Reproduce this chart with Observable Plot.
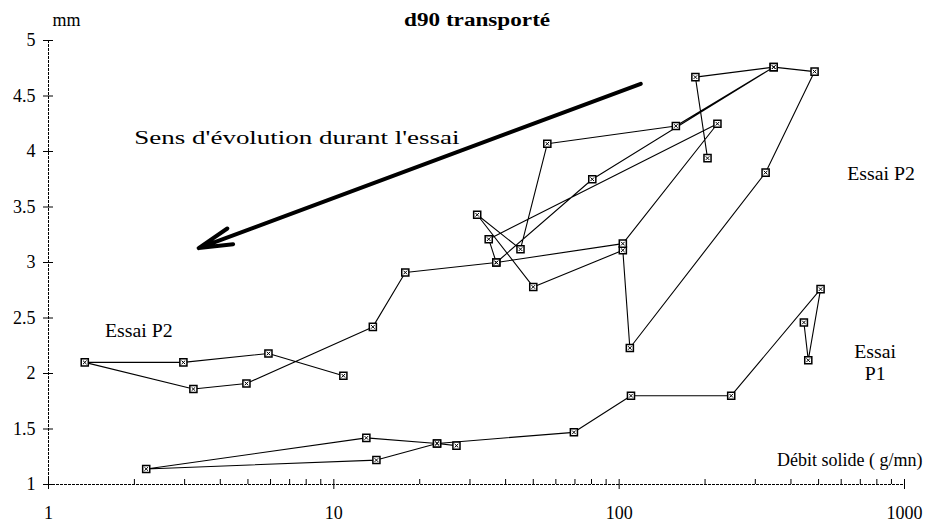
<!DOCTYPE html>
<html>
<head>
<meta charset="utf-8">
<script src="https://cdn.jsdelivr.net/npm/d3@7"></script>
<script src="https://cdn.jsdelivr.net/npm/@observablehq/plot@0.6"></script>
<style>
  body { margin: 0; background: #fff; }
  g[aria-description="wide"] { transform-box: fill-box; transform-origin: center; transform: scaleX(1.42); }
  g[aria-description="title"] { transform-box: fill-box; transform-origin: center; transform: scaleX(1.22); }
  g[aria-description="label"] { transform-box: fill-box; transform-origin: center; transform: scaleX(1.1); }
</style>
</head>
<body>
<div id="chart"></div>
<script>
// Essai P2 — path order as drawn (some points revisited)
const p2Debit = [204, 185, 348, 484, 326, 109, 103, 50, 31.8, 45.1, 56, 158, 348, 80.5, 37.1, 103, 221, 34.9, 37.1, 17.8, 13.7, 4.94, 3.22, 1.34, 2.97, 5.9, 10.8];
const p2D90   = [3.94, 4.67, 4.76, 4.72, 3.81, 2.23, 3.11, 2.78, 3.43, 3.12, 4.07, 4.23, 4.76, 3.75, 3.0, 3.17, 4.25, 3.21, 3.0, 2.91, 2.42, 1.91, 1.86, 2.10, 2.10, 2.18, 1.98];
// Essai P1
const p1Debit = [444, 460, 508, 247, 110, 69.4, 23.0, 13.0, 2.2, 14.1, 23.0, 26.9];
const p1D90   = [2.46, 2.12, 2.76, 1.80, 1.80, 1.47, 1.37, 1.42, 1.14, 1.22, 1.37, 1.35];

const xTicks = [1, 10, 100, 1000];
const xMinorTicks = [2, 3, 4, 5, 6, 7, 8, 9, 20, 30, 40, 50, 60, 70, 80, 90, 200, 300, 400, 500, 600, 700, 800, 900];
const yTicks = [1, 1.5, 2, 2.5, 3, 3.5, 4, 4.5, 5];

const titleText = ["d90 transporté"];
const titleDebit = [31.9];
const titleD90 = [5.126];
const yUnitText = "mm";
const xLabelText = "Débit solide ( g/mn)";

// annotations (data coordinates)
const arrowDebit = [119, 3.36];
const arrowD90 = [4.61, 3.13];
const noteText  = ["Sens d'évolution durant l'essai", "Essai P2", "Essai P2", "Essai\nP1"];
const noteDebit = [7.46, 831, 2.08, 792];
const noteD90   = [4.06, 3.74, 2.32, 1.94];

const rows = [
  ...p2Debit.map((d, i) => ({series: "P2", debit: d, d90: p2D90[i]})),
  ...p1Debit.map((d, i) => ({series: "P1", debit: d, d90: p1D90[i]}))
];
const notes = noteText.map((t, i) => ({text: t, debit: noteDebit[i], d90: noteD90[i]}));
const titles = titleText.map((t, i) => ({text: t, debit: titleDebit[i], d90: titleD90[i]}));
const arrowRow = [{x1: arrowDebit[0], y1: arrowD90[0], x2: arrowDebit[1], y2: arrowD90[1]}];

const fmt = d => String(d);
const serif = "Liberation Serif";

const chart = Plot.plot({
  width: 930,
  height: 524,
  marginLeft: 48,
  marginRight: 26,
  marginTop: 40,
  marginBottom: 40,
  style: {fontFamily: serif, fontSize: "18px", background: "#fff", color: "#000"},
  x: {type: "log", domain: [1, 1000], label: null},
  y: {domain: [1, 5], label: null},
  marks: [
    Plot.ruleX([1], {stroke: "#000", strokeWidth: 1, strokeDasharray: "3,1"}),
    Plot.ruleY([1], {stroke: "#000", strokeWidth: 1, strokeDasharray: "3,1"}),
    Plot.axisY({anchor: "left", ticks: yTicks, tickFormat: fmt, tickSize: 10, dx: 5, tickPadding: 8, fontSize: 18, fontFamily: serif, stroke: "#000"}),
    Plot.axisX({anchor: "bottom", ticks: xTicks, tickFormat: fmt, tickSize: 10, dy: -5, tickPadding: 17, fontSize: 18, fontFamily: serif, stroke: "#000"}),
    Plot.axisX({anchor: "bottom", ticks: xMinorTicks, tickFormat: fmt, tickSize: 5, dy: -5, fill: "none", stroke: "#000"}),
    Plot.line(rows, {x: "debit", y: "d90", z: "series", stroke: "#000", strokeWidth: 1.1}),
    Plot.dot(rows, {x: "debit", y: "d90", symbol: "square", r: 4, fill: "#fff", stroke: "#000", strokeWidth: 1.5}),
    Plot.dot(rows, {x: "debit", y: "d90", symbol: "times", r: 1.8, stroke: "#000", strokeWidth: 1}),
    Plot.arrow(arrowRow, {x1: "x1", y1: "y1", x2: "x2", y2: "y2", stroke: "#000", strokeWidth: 4, headAngle: 28, headLength: 13, strokeLinecap: "round"}),
    Plot.text(notes.slice(0, 1), {x: "debit", y: "d90", text: "text", lineAnchor: "bottom", fontSize: 19, fontFamily: serif, ariaDescription: "wide"}),
    ...notes.slice(1).map(n => Plot.text([n], {x: "debit", y: "d90", text: "text", lineAnchor: "bottom", fontSize: 18, fontFamily: serif, lineHeight: 1.22, ariaDescription: "label"})),
    Plot.text(titles, {x: "debit", y: "d90", text: "text", lineAnchor: "bottom", fontSize: 19, fontWeight: "bold", fontFamily: serif, ariaDescription: "title"}),
    Plot.text([yUnitText], {frameAnchor: "top-left", textAnchor: "start", dx: 4, dy: -15, lineAnchor: "bottom", fontSize: 18, fontFamily: serif}),
    Plot.text([xLabelText], {frameAnchor: "bottom-right", textAnchor: "end", dx: 18, dy: -19, lineAnchor: "bottom", fontSize: 18, fontFamily: serif})
  ]
});
document.getElementById("chart").append(chart);
</script>
</body>
</html>
